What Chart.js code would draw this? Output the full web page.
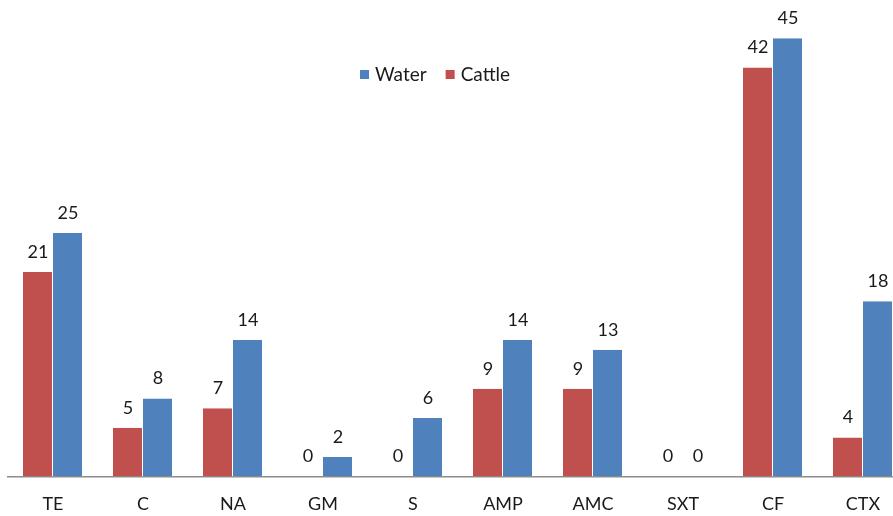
<!DOCTYPE html>
<html>
<head>
<meta charset="utf-8">
<script src="https://cdn.jsdelivr.net/npm/chart.js@4"></script>
<style>
  html, body { margin: 0; padding: 0; background: #fff; overflow: hidden; }
  #wrap { width: 893px; height: 516px; overflow: hidden; }
  canvas { display: block; }
</style>
</head>
<body>
<div id="wrap"><canvas id="chart" width="908" height="516"></canvas></div>
<script>
// Data
var categories = ['TE', 'C', 'NA', 'GM', 'S', 'AMP', 'AMC', 'SXT', 'CF', 'CTX'];
var cattleValues = [21, 5, 7, 0, 0, 9, 9, 0, 42, 4];
var waterValues = [25, 8, 14, 2, 6, 14, 13, 0, 45, 18];

var RED = '#C0504D';
var BLUE = '#4F81BD';
var FONT = 'Lato, "Open Sans", sans-serif';
var TEXT = '#1a1a1a';

// Value labels above every bar (no datalabels plugin here)
var valueLabels = {
	id: 'valueLabels',
	afterDatasetsDraw: function(chart) {
		var ctx = chart.ctx;
		ctx.save();
		ctx.font = '18px ' + FONT;
		ctx.fillStyle = TEXT;
		ctx.textAlign = 'center';
		ctx.textBaseline = 'middle';
		chart.data.datasets.forEach(function(ds, i) {
			chart.getDatasetMeta(i).data.forEach(function(bar, j) {
				ctx.fillText(String(ds.data[j]), bar.x, bar.y - 20);
			});
		});
		ctx.restore();
	}
};

// Legend drawn inside the plot, Water first then Cattle
var insideLegend = {
	id: 'insideLegend',
	afterDraw: function(chart) {
		var ctx = chart.ctx;
		var items = [
			{ text: 'Water', color: BLUE },
			{ text: 'Cattle', color: RED }
		];
		var x = 360, y = 75;
		ctx.save();
		ctx.font = '19px ' + FONT;
		ctx.textBaseline = 'middle';
		ctx.textAlign = 'left';
		items.forEach(function(item) {
			ctx.fillStyle = item.color;
			ctx.fillRect(x, y - 5, 9, 9);
			ctx.fillStyle = TEXT;
			ctx.fillText(item.text, x + 15, y);
			x += 15 + ctx.measureText(item.text).width + 19;
		});
		ctx.restore();
	}
};

new Chart(document.getElementById('chart').getContext('2d'), {
	type: 'bar',
	data: {
		labels: categories,
		datasets: [
			{ label: 'Cattle', data: cattleValues, backgroundColor: RED, borderColor: '#ffffff', borderWidth: { left: 0, right: 1, top: 0, bottom: 0 }, borderSkipped: false },
			{ label: 'Water', data: waterValues, backgroundColor: BLUE, borderColor: '#ffffff', borderWidth: { left: 0, right: 1, top: 0, bottom: 0 }, borderSkipped: false }
		]
	},
	options: {
		responsive: false,
		animation: false,
		layout: { padding: { left: 8, right: 0, top: 9, bottom: -16 } },
		categoryPercentage: 0.667,
		barPercentage: 1,
		plugins: {
			legend: { display: false },
			tooltip: { enabled: false }
		},
		scales: {
			x: {
				grid: { display: false, drawTicks: false },
				border: { display: true, color: '#8c8c8c', width: 1.5 },
				ticks: { color: TEXT, font: { family: FONT, size: 18 }, padding: 17, maxRotation: 0, autoSkip: false }
			},
			y: {
				display: false,
				min: 0,
				max: 48
			}
		}
	},
	plugins: [valueLabels, insideLegend]
});
</script>
</body>
</html>
